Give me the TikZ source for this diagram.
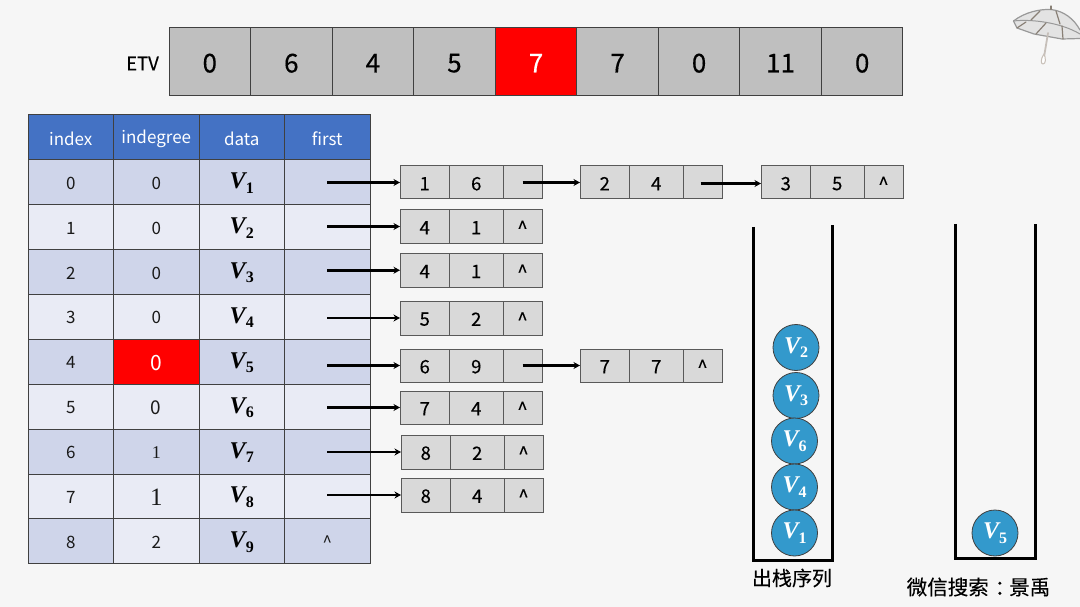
\documentclass[tikz,border=0pt]{standalone}
\usepackage{fontspec}
\setmainfont{Noto Sans CJK SC}
\newfontfamily\vfont{Liberation Serif}
\newfontfamily\numfont{Noto Sans CJK SC}
\newfontfamily\numbold[FakeBold=0.3]{Noto Sans CJK SC}
\usetikzlibrary{arrows.meta}
\definecolor{bgc}{HTML}{F6F6F6}
\definecolor{hdr}{HTML}{4472C4}
\definecolor{dk}{HTML}{CFD5EA}
\definecolor{lt}{HTML}{E9EBF5}
\definecolor{etvc}{HTML}{BFBFBF}
\definecolor{lst}{HTML}{D9D9D9}
\definecolor{bord}{HTML}{404040}
\definecolor{ball}{HTML}{3399CC}
\definecolor{ink}{HTML}{1A1A1A}
\newcommand{\vv}[2][black]{{\color{#1}\vfont\bfseries\itshape\fontsize{24}{24}\selectfont V\raisebox{-4.5pt}{\upshape\fontsize{16}{16}\selectfont #2}}}
\newcommand{\low}[1]{\raisebox{0pt}[\dimexpr\height+2.4pt\relax][\depth]{#1}}
\newcommand{\tcell}[7]{\node[cellbox,#6,minimum width={((#4)-(#2))*1pt},minimum height={((#5)-(#3))*1pt}] (#1) at ({((#2)+(#4))/2},{((#3)+(#5))/2}) {\low{#7}};}
\tikzset{
  cellbox/.style={draw=bord,line width=1pt,inner sep=0pt,outer sep=0pt,text=ink,font=\numfont\fontsize{17}{17}\selectfont},
  hcell/.style={fill=hdr,text=white,font=\numfont\fontsize{17}{17}\selectfont,draw=black!75},
  dcell/.style={fill=dk},
  lcell/.style={fill=lt},
  redcell/.style={fill=red,text=white,font=\numfont\fontsize{21}{21}\selectfont},
  lcellbig/.style={fill=lt,font=\numfont\fontsize{19}{19}\selectfont},
  dcellserif/.style={fill=dk,font=\vfont\fontsize{18}{18}\selectfont},
  lcellserif/.style={fill=lt,font=\vfont\fontsize{25}{25}\selectfont},
  etvcell/.style={fill=etvc,text=black,font=\numbold\fontsize{26}{26}\selectfont},
  etvred/.style={fill=red,text=white,font=\numbold\fontsize{26}{26}\selectfont},
  listcell/.style={fill=lst,draw=black!65,text=black,font=\numbold\fontsize{18.5}{18.5}\selectfont},
  link/.style={draw=black,line width=2.5pt,-{Stealth[length=6.5pt,width=7pt]}},
  wall/.style={draw=black,line width=3pt,line join=miter},
  ballnode/.style={circle,fill=ball,draw=bord,line width=0.8pt,minimum size=46pt,inner sep=0pt},
  captext/.style={text=black,inner sep=0pt,font=\numbold\fontsize{20}{20}\selectfont}
}
\begin{document}
\begin{tikzpicture}[x=1pt,y=-1pt]
\useasboundingbox[fill=bgc] (0,0) rectangle (1080,607);

% ETV
\node[inner sep=0pt,text=black,font=\numbold\fontsize{18.5}{18.5}\selectfont] (etvlabel) at (142.5,63.5) {ETV};
\foreach \i/\v/\s in {0/0/etvcell,1/6/etvcell,2/4/etvcell,3/5/etvcell,4/7/etvred,5/7/etvcell,6/0/etvcell,7/11/etvcell,8/0/etvcell}{
  \pgfmathsetmacro{\xa}{169+\i*81.55}
  \pgfmathsetmacro{\xb}{169+(\i+1)*81.55}
  \tcell{e\i}{\xa}{28}{\xb}{96}{\s}{\v}
}

% Table header
\tcell{h0}{28}{115}{113.5}{159.5}{hcell}{index}
\tcell{h1}{113.5}{115}{199}{159.5}{hcell}{indegree}
\tcell{h2}{199}{115}{284.5}{159.5}{hcell}{data}
\tcell{h3}{284.5}{115}{370}{159.5}{hcell}{first}

% Table rows: row, top, bottom, row style, degree style, degree text, first text
\newcommand{\trow}[7]{%
  \tcell{a#1}{28}{#2}{113.5}{#3}{#4}{#1}
  \tcell{b#1}{113.5}{#2}{199}{#3}{#5}{#6}
  \pgfmathtruncatemacro{\vn}{#1+1}
  \tcell{c#1}{199}{#2}{284.5}{#3}{#4}{\vv{\vn}}
  \tcell{f#1}{284.5}{#2}{370}{#3}{#4}{#7}
}
\trow{0}{159.5}{204.5}{dcell}{dcell}{0}{}
\trow{1}{204.5}{249.5}{lcell}{lcell}{0}{}
\trow{2}{249.5}{294}{dcell}{dcell}{0}{}
\trow{3}{294}{339}{lcell}{lcell}{0}{}
\trow{4}{339}{384}{dcell}{redcell}{0}{}
\trow{5}{384}{429}{lcell}{lcellbig}{0}{}
\trow{6}{429}{474}{dcell}{dcellserif}{1}{}
\trow{7}{474}{518.5}{lcell}{lcellserif}{1}{}
\trow{8}{518.5}{563.5}{dcell}{lcell}{2}{\^{}}

% Adjacency lists: name, left x, top, bottom, data1, data2, last
\newcommand{\lnode}[7]{%
  \tcell{#1a}{#2}{#3}{#2+49.5}{#4}{listcell}{#5}
  \tcell{#1b}{#2+49.5}{#3}{#2+103}{#4}{listcell}{#6}
  \tcell{#1c}{#2+103}{#3}{#2+142}{#4}{listcell}{#7}
}
\lnode{p}{400}{166}{199}{1}{6}{}
\lnode{q}{400}{210}{243}{4}{1}{\^{}}
\lnode{r}{400}{253.5}{287}{4}{1}{\^{}}
\lnode{s}{400}{301}{335}{5}{2}{\^{}}
\lnode{t}{400}{349}{382}{6}{9}{}
\lnode{u}{400}{391}{424}{7}{4}{\^{}}
\lnode{v}{401}{435}{469}{8}{2}{\^{}}
\lnode{w}{401}{478}{512}{8}{4}{\^{}}
\lnode{pp}{580}{166}{199}{2}{4}{}
\lnode{ppp}{761}{166}{199}{3}{5}{\^{}}
\lnode{tt}{580}{349}{382}{7}{7}{\^{}}

% Arrows
\foreach \r/\n in {0/p,1/q,2/r,3/s,4/t,5/u,6/v,7/w}{
  \draw[link] (f\r.center |- \n a.west) -- (\n a.west);
}
\draw[link] (pc.center) -- (ppa.west);
\draw[link] ([xshift=-2pt,yshift=-1pt]ppc.center) -- ([yshift=-1pt]pppa.west);
\draw[link] (tc.center) -- (tta.west);

% Stacks
\draw[wall] (753.5,227) -- (753.5,560.5) -- (832.5,560.5) -- (832.5,225);
\draw[wall] (955.5,224) -- (955.5,558) -- (1035,558) -- (1035,224);

% Balls
\node[ballnode] (n2) at (796,347.5) {\vv[white]{2}};
\node[ballnode] (n3) at (796,395.5) {\vv[white]{3}};
\node[ballnode] (n6) at (794.5,441) {\vv[white]{6}};
\node[ballnode] (n4) at (794.5,487) {\vv[white]{4}};
\node[ballnode] (n1) at (794.5,533) {\vv[white]{1}};
\node[ballnode] (n5) at (995,533) {\vv[white]{5}};

% Captions
\node[captext] (cap1) at (792,578) {出栈序列};
\node[captext,font=\numbold\fontsize{20.5}{20.5}\selectfont] (cap2) at (978.5,587) {微信搜索\kern6pt：\kern-6pt景禹};

% Umbrella
\begin{scope}[line join=round,line cap=round]
\fill[black!11] (1013.5,21) .. controls (1025,12) and (1040,9) .. (1051,9.5) .. controls (1064,11) and (1074,19) .. (1080,30) -- (1080,38.5) -- (1062,39) -- (1034,34) -- (1017,28) -- cycle;
\draw[gray!80,line width=1.2pt] (1013.5,21) .. controls (1025,12) and (1040,9) .. (1051,9.5) .. controls (1064,11) and (1074,19) .. (1080,30);
\draw[gray!80,line width=1.2pt] (1013.5,21) -- (1017,28) -- (1034,34) -- (1062,39) -- (1080,38.5);
\draw[gray!80,line width=1pt] (1013.5,21) .. controls (1030,19) and (1060,22) .. (1080,34);
\draw[gray!85!brown,line width=1.2pt] (1051,9.5) -- (1051,6);
\draw[gray!85!brown,line width=1.2pt] (1040,11) -- (1031,20);
\draw[gray!85!brown,line width=1.2pt] (1056,11) -- (1060,24);
\draw[gray!85!brown,line width=1.2pt] (1026,22) -- (1017,28);
\draw[gray!85!brown,line width=1.2pt] (1046,23) -- (1036,34);
\draw[gray!85!brown,line width=1.2pt] (1062,26) -- (1063,39);
\draw[brown!20!gray!50,line width=1.8pt] (1048,33) -- (1044,57);
\draw[brown!25!gray!50,line width=1pt,fill=white] (1044,54) .. controls (1040,60) and (1041,64) .. (1043,64) .. controls (1046,64) and (1046,58) .. (1044,54) -- cycle;
\end{scope}
\end{tikzpicture}
\end{document}
